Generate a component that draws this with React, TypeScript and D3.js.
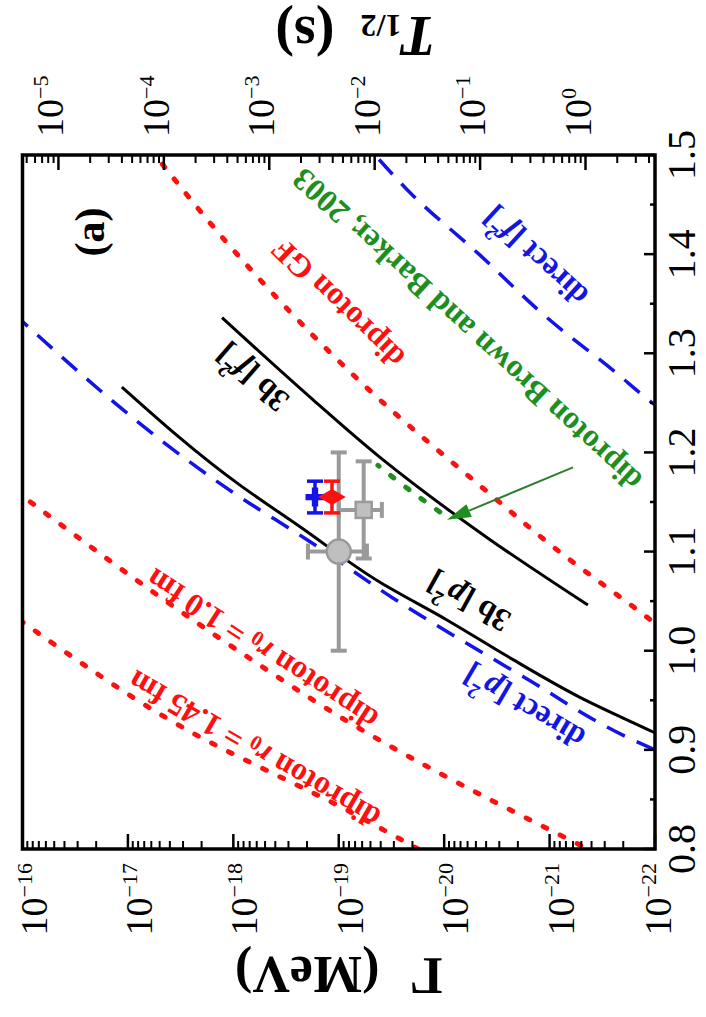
import React from "react";
import * as d3 from "d3";

// Plot area (drawn in its natural orientation, then turned a quarter turn)
const W = 694; // energy axis length
const H = 632.5; // width axis length
const ORIGIN_X = 22.5;
const ORIGIN_Y = 849;

const SERIF = "'Liberation Serif', 'Times New Roman', Times, serif";
const RED = "#ff1010";
const BLUE = "#1414e6";
const GREEN = "#1e8f1e";
const ARROW_GREEN = "#2e7d2e";
const GREY = "#9a9a9a";
const GREY_FILL = "#bfbfbf";

// T1/2 = hbar ln2 / Gamma  (MeV s)
const HBAR_LN2 = 6.582119569e-22 * Math.LN2;

// Axis ticks
const energyTicks = [0.8, 0.9, 1.0, 1.1, 1.2, 1.3, 1.4, 1.5];
const energyMinorTicks = [0.85, 0.95, 1.05, 1.15, 1.25, 1.35, 1.45];
const gammaDecades = [-16, -17, -18, -19, -20, -21, -22];
const halfLifeDecades = [-5, -4, -3, -2, -1, 0];

// Model curves: decay energy E (MeV) and width Gamma (MeV)
const diprotonGF_E = [1.02, 1.029, 1.105, 1.164, 1.253, 1.4, 1.5];
const diprotonGF_G = [8.1e-23, 1.04e-22, 9.29e-22, 4.29e-21, 4.06e-20, 9.23e-19, 5.53e-18];

const directF2_E = [1.24, 1.248, 1.283, 1.336, 1.399, 1.459, 1.5];
const directF2_G = [7.9e-23, 1.0e-22, 2.51e-22, 1.06e-21, 4.57e-21, 1.97e-20, 4.53e-20];

const threeBodyF2_E = [1.046, 1.112, 1.195, 1.253, 1.336];
const threeBodyF2_G = [4.33e-22, 3.67e-21, 4.06e-20, 1.75e-19, 1.28e-18];

const brownBarker_E = [1.14, 1.163, 1.187];
const brownBarker_G = [1.1e-20, 2.19e-20, 4.25e-20];

const threeBodyP2_E = [0.912, 0.918, 0.953, 0.991, 1.031, 1.069, 1.125, 1.167, 1.266];
const threeBodyP2_G = [7.9e-23, 1.04e-22, 5.15e-22, 2.22e-21, 9.42e-21, 4.06e-20, 2.33e-19, 8.65e-19, 1.14e-17];

const directP2_E = [0.9, 0.91, 0.974, 1.053, 1.112, 1.155, 1.332];
const directP2_G = [1.0e-22, 1.62e-22, 1.79e-21, 3.05e-20, 2.0e-19, 8.65e-19, 1.0e-16];

const diproton10_E = [0.795, 0.8, 0.804, 0.923, 1.001, 1.156];
const diproton10_G = [3.5e-22, 4.33e-22, 5.15e-22, 6.71e-20, 9.29e-19, 1.0e-16];

const diproton145_E = [0.8, 0.836, 0.923, 1.001, 1.029];
const diproton145_G = [1.77e-20, 7.33e-20, 3.07e-18, 4.22e-17, 1.0e-16];

// Measured points: E +- dE, Gamma with asymmetric range
const pointKind = ["circle", "square", "cross", "diamond"];
const pointE = [1.1, 1.142, 1.155, 1.155];
const pointDE = [0.1, 0.049, 0.016, 0.016];
const pointG = [1.0e-19, 5.8e-20, 1.68e-19, 1.16e-19];
const pointGLow = [5.4e-20, 3.9e-20, 1.68e-19, 1.16e-19];
const pointGHigh = [1.96e-19, 1.0e-19, 1.68e-19, 1.16e-19];

// Arrow pointing at the Brown & Barker estimate
const arrowFrom: [number, number] = [1.185, 6.0e-22];
const arrowTo: [number, number] = [1.132, 9.4e-21];

export default function App() {
  const xE = d3.scaleLinear().domain([0.8, 1.5]).range([0, W]);
  const yG = d3.scaleLog().domain([1e-16, 1e-22]).range([0, H]);
  const yT = d3.scaleLog().domain([HBAR_LN2 / 1e-16, HBAR_LN2 / 1e-22]).range([0, H]);

  const line = d3
    .line<[number, number]>()
    .x((d) => xE(d[0]))
    .y((d) => yG(d[1]))
    .curve(d3.curveMonotoneX);
  const pathOf = (E: number[], G: number[]) =>
    line(E.map((e, i) => [e, G[i]] as [number, number]).sort((a, b) => a[0] - b[0])) || "";

  const curves = [
    { E: diproton145_E, G: diproton145_G, color: RED, width: 5, dash: "4 15", cap: "round" },
    { E: diproton10_E, G: diproton10_G, color: RED, width: 5, dash: "4 15", cap: "round" },
    { E: diprotonGF_E, G: diprotonGF_G, color: RED, width: 5, dash: "4 15", cap: "round" },
    { E: directP2_E, G: directP2_G, color: BLUE, width: 3.5, dash: "20 13", cap: "butt" },
    { E: directF2_E, G: directF2_G, color: BLUE, width: 3.5, dash: "20 13", cap: "butt" },
    { E: threeBodyP2_E, G: threeBodyP2_G, color: "#000", width: 3, dash: "none", cap: "butt" },
    { E: threeBodyF2_E, G: threeBodyF2_G, color: "#000", width: 3, dash: "none", cap: "butt" },
    { E: brownBarker_E, G: brownBarker_G, color: GREEN, width: 5, dash: "4 15", cap: "round" },
  ];

  // minor ticks on the log axes
  const gammaMinor: number[] = [];
  for (let k = -22; k <= -17; k++) for (let m = 2; m <= 9; m++) gammaMinor.push(m * Math.pow(10, k));
  const tDomain = yT.domain();
  const tMinor: number[] = [];
  for (let k = -6; k <= 0; k++)
    for (let m = 2; m <= 9; m++) {
      const t = m * Math.pow(10, k);
      if (t >= tDomain[0] && t <= tDomain[1]) tMinor.push(t);
    }

  // arrow geometry
  const p0 = [xE(arrowFrom[0]), yG(arrowFrom[1])];
  const p1 = [xE(arrowTo[0]), yG(arrowTo[1])];
  const len = Math.hypot(p1[0] - p0[0], p1[1] - p0[1]);
  const ux = (p1[0] - p0[0]) / len;
  const uy = (p1[1] - p0[1]) / len;
  const headL = 24;
  const headW = 7;
  const bx = p1[0] - ux * headL;
  const by = p1[1] - uy * headL;
  const head = `${p1[0]},${p1[1]} ${bx - uy * headW},${by + ux * headW} ${bx + uy * headW},${by - ux * headW}`;

  const labelSize = 32;
  const supSize = 21;
  const labels = [
    {
      E: 0.9, G: 6.37e-19, angle: -60, color: RED,
      content: (
        <>
          diproton <tspan fontStyle="italic">r</tspan>
          <tspan fontSize={supSize} dy={7}>0</tspan>
          <tspan dy={-7}> = 1.45 fm</tspan>
        </>
      ),
    },
    {
      E: 1.001, G: 5.35e-19, angle: -57, color: RED,
      content: (
        <>
          diproton <tspan fontStyle="italic">r</tspan>
          <tspan fontSize={supSize} dy={7}>0</tspan>
          <tspan dy={-7}> = 1.0 fm</tspan>
        </>
      ),
    },
    {
      E: 1.049, G: 5.92e-21, angle: -61, color: "#000",
      content: (
        <>
          3b [<tspan fontStyle="italic">p</tspan>
          <tspan fontSize={supSize} dy={-12}>2</tspan>
          <tspan dy={12}>]</tspan>
        </>
      ),
    },
    {
      E: 0.943, G: 1.75e-21, angle: -59.5, color: BLUE,
      content: (
        <>
          direct [<tspan fontStyle="italic">p</tspan>
          <tspan fontSize={supSize} dy={-12}>2</tspan>
          <tspan dy={12}>]</tspan>
        </>
      ),
    },
    {
      E: 1.275, G: 6.65e-19, angle: -49, color: "#000",
      content: (
        <>
          3b [<tspan fontStyle="italic">f</tspan>
          <tspan fontSize={supSize} dy={-12}>2</tspan>
          <tspan dy={12}>]</tspan>
        </>
      ),
    },
    { E: 1.35, G: 1.02e-19, angle: -46, color: RED, content: <>diproton GF</> },
    { E: 1.3235, G: 6.08e-21, angle: -47.5, color: GREEN, content: <>diproton Brown and Barker, 2003</> },
    {
      E: 1.397, G: 1.37e-21, angle: -47.5, color: BLUE,
      content: (
        <>
          direct [<tspan fontStyle="italic">f</tspan>
          <tspan fontSize={supSize} dy={-12}>2</tspan>
          <tspan dy={12}>]</tspan>
        </>
      ),
    },
  ];

  return (
    <svg
      width={706}
      height={1017}
      style={{ position: "absolute", left: 0, top: 0, background: "#fff" }}
      fontFamily={SERIF}
    >
      <defs>
        <clipPath id="plot-clip">
          <rect x={0} y={0} width={W} height={H} />
        </clipPath>
      </defs>
      <g transform={`translate(${ORIGIN_X},${ORIGIN_Y}) rotate(-90)`}>
        {/* model curves */}
        <g clipPath="url(#plot-clip)">
          {curves.map((c, i) => (
            <path
              key={i}
              d={pathOf(c.E, c.G)}
              fill="none"
              stroke={c.color}
              strokeWidth={c.width}
              strokeDasharray={c.dash}
              strokeLinecap={c.cap as any}
            />
          ))}
          {/* arrow */}
          <line x1={p0[0]} y1={p0[1]} x2={bx} y2={by} stroke={ARROW_GREEN} strokeWidth={2} />
          <polygon points={head} fill={GREEN} />
        </g>

        {/* measured points */}
        {pointE.map((e, i) => {
          const kind = pointKind[i];
          const x = xE(e);
          const y = yG(pointG[i]);
          const x0 = xE(e - pointDE[i]);
          const x1 = xE(e + pointDE[i]);
          const grey = kind === "circle" || kind === "square";
          const col = grey ? GREY : kind === "cross" ? BLUE : RED;
          const sw = grey ? 4 : 3.5;
          const capE = 8;
          const yLo = yG(pointGLow[i]);
          const yHi = yG(pointGHigh[i]);
          return (
            <g key={i}>
              <line x1={x0} y1={y} x2={x1} y2={y} stroke={col} strokeWidth={sw} />
              <line x1={x0} y1={y - capE} x2={x0} y2={y + capE} stroke={col} strokeWidth={sw} />
              <line x1={x1} y1={y - capE} x2={x1} y2={y + capE} stroke={col} strokeWidth={sw} />
              {yLo !== yHi && (
                <>
                  <line x1={x} y1={yLo} x2={x} y2={yHi} stroke={col} strokeWidth={sw} />
                  <line x1={x - 8} y1={yLo} x2={x + 8} y2={yLo} stroke={col} strokeWidth={sw} />
                  <line x1={x - 8} y1={yHi} x2={x + 8} y2={yHi} stroke={col} strokeWidth={sw} />
                </>
              )}
              {kind === "circle" && <circle cx={x} cy={y} r={12} fill={GREY_FILL} stroke={GREY} strokeWidth={2.5} />}
              {kind === "square" && (
                <rect x={x - 8} y={y - 8} width={16} height={16} fill={GREY_FILL} stroke={GREY} strokeWidth={2.5} />
              )}
              {kind === "cross" && (
                <path d={d3.symbol(d3.symbolCross, 200)() || ""} transform={`translate(${x},${y})`} fill={BLUE} />
              )}
              {kind === "diamond" && (
                <path d={d3.symbol(d3.symbolDiamond, 220)() || ""} transform={`translate(${x},${y})`} fill={RED} />
              )}
            </g>
          );
        })}

        {/* frame */}
        <rect x={0} y={0} width={W} height={H} fill="none" stroke="#000" strokeWidth={3.5} />

        {/* energy axis (bottom) */}
        {energyTicks.map((e) => (
          <g key={`e${e}`}>
            <line x1={xE(e)} y1={H} x2={xE(e)} y2={H - 11} stroke="#000" strokeWidth={2.5} />
            <text x={xE(e)} y={H + 40} textAnchor="middle" fontSize={40}>
              {d3.format(".1f")(e)}
            </text>
          </g>
        ))}
        {energyMinorTicks.map((e) => (
          <line key={`em${e}`} x1={xE(e)} y1={H} x2={xE(e)} y2={H - 5} stroke="#000" strokeWidth={2.5} />
        ))}

        {/* width axis (left) */}
        {gammaDecades.map((k) => {
          const v = yG(Math.pow(10, k));
          return (
            <g key={`g${k}`}>
              <line x1={0} y1={v} x2={15} y2={v} stroke="#000" strokeWidth={2.5} />
              <text x={-14} y={Math.min(v + 24, H + 16)} textAnchor="end" fontSize={38}>
                10
                <tspan fontSize={22} dy={-15}>
                  {`\u2212${Math.abs(k)}`}
                </tspan>
              </text>
            </g>
          );
        })}
        {gammaMinor.map((g, i) => (
          <line key={`gm${i}`} x1={0} y1={yG(g)} x2={8} y2={yG(g)} stroke="#000" strokeWidth={2} />
        ))}

        {/* half-life axis (right) */}
        {halfLifeDecades.map((k) => {
          const v = yT(Math.pow(10, k));
          return (
            <g key={`t${k}`}>
              <line x1={W} y1={v} x2={W - 15} y2={v} stroke="#000" strokeWidth={2.5} />
              <text x={W + 18} y={v + 5} textAnchor="start" fontSize={38}>
                10
                <tspan fontSize={22} dy={-15}>
                  {k === 0 ? "0" : `\u2212${Math.abs(k)}`}
                </tspan>
              </text>
            </g>
          );
        })}
        {tMinor.map((t, i) => (
          <line key={`tm${i}`} x1={W} y1={yT(t)} x2={W - 8} y2={yT(t)} stroke="#000" strokeWidth={2} />
        ))}

        {/* axis titles */}
        <text
          transform={`translate(${-126},${H / 2}) rotate(-90)`}
          textAnchor="middle"
          dominantBaseline="central"
          fontSize={52}
          fontWeight="bold"
        >
          Γ<tspan dx={30}>(MeV)</tspan>
        </text>
        <text
          transform={`translate(${W + 119},${333}) rotate(-90)`}
          textAnchor="middle"
          dominantBaseline="central"
          fontSize={56}
          fontWeight="bold"
        >
          <tspan fontStyle="italic">T</tspan>
          <tspan fontSize={32} dy={10}>1/2</tspan>
          <tspan dy={-10} dx={26}>(s)</tspan>
        </text>

        {/* panel tag */}
        <text
          x={xE(1.4224)}
          y={yG(2.29e-17)}
          textAnchor="middle"
          dominantBaseline="central"
          fontSize={42}
          fontWeight="bold"
        >
          (a)
        </text>

        {/* curve labels */}
        {labels.map((l, i) => (
          <text
            key={`l${i}`}
            transform={`translate(${xE(l.E)},${yG(l.G)}) rotate(${l.angle})`}
            textAnchor="middle"
            dominantBaseline="central"
            fontSize={labelSize}
            fontWeight="bold"
            fill={l.color}
          >
            {l.content}
          </text>
        ))}
      </g>
    </svg>
  );
}
